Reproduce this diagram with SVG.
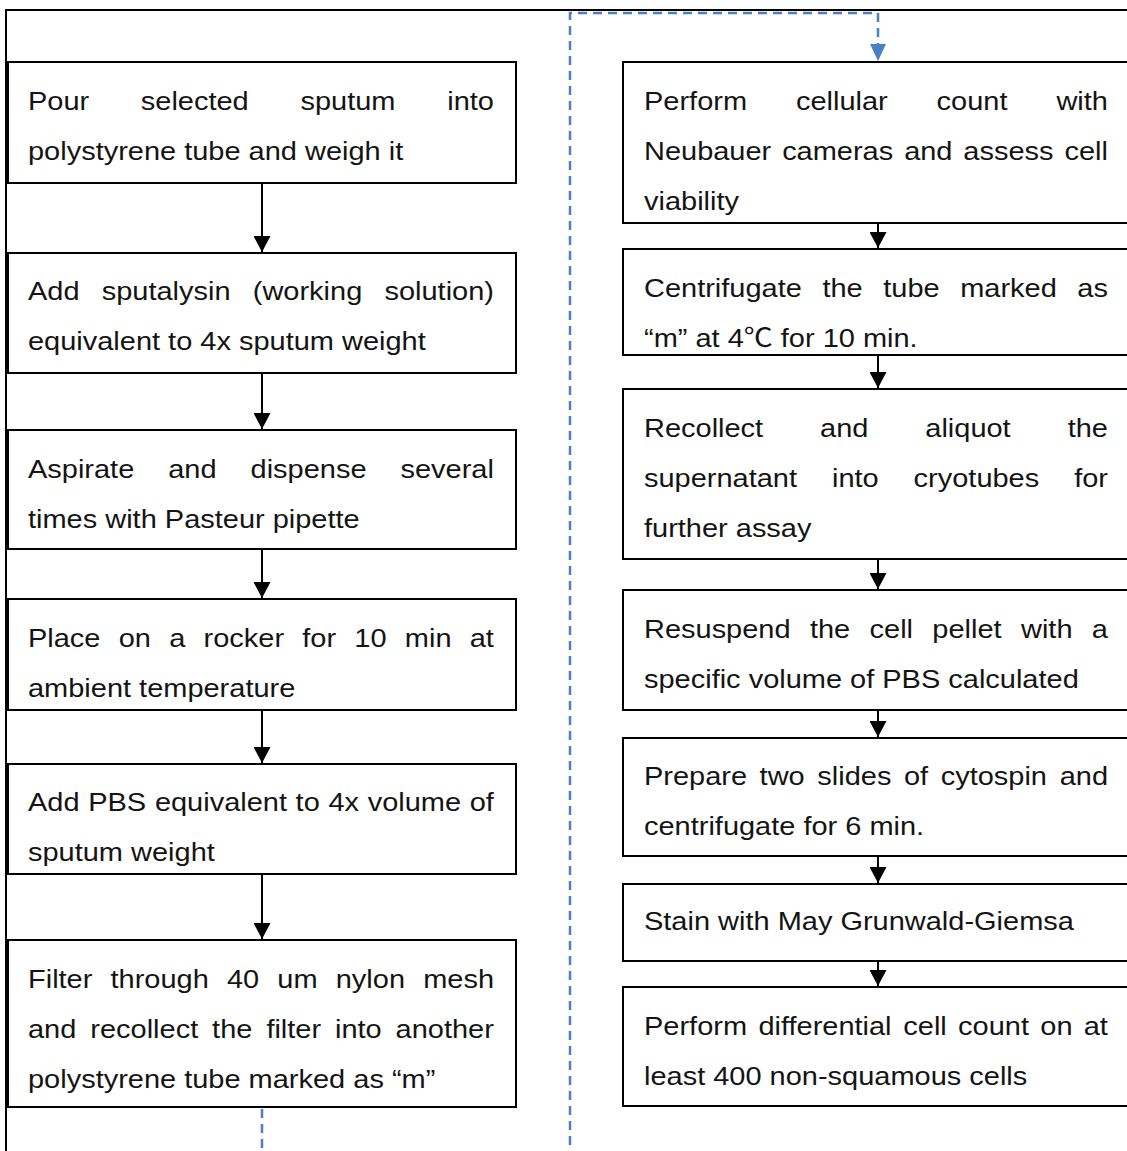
<svg xmlns="http://www.w3.org/2000/svg" width="1127" height="1151" viewBox="0 0 1127 1151">
  <style>
    .box { fill: #ffffff; stroke: #000000; stroke-width: 2; }
    .t { font-family: "Liberation Sans", Arial, "Noto Sans CJK SC", sans-serif; font-size: 26px; fill: #141414; }
    .flow { fill: none; stroke: #000000; stroke-width: 2; }
    .link { fill: none; stroke: #4a7fc1; stroke-width: 2.5; stroke-dasharray: 9 6; }
    .frame { fill: none; stroke: #000000; stroke-width: 2; }
  </style>
  <defs>
    <marker id="ah" markerUnits="userSpaceOnUse" markerWidth="16" markerHeight="17" viewBox="0 0 16 17" refX="16" refY="8.5" orient="auto">
      <path d="M0,0 L16,8.5 L0,17 z" fill="#000000"/>
    </marker>
  </defs>

  <rect x="0" y="0" width="1127" height="1151" fill="#ffffff"/>
  <path class="frame" d="M6,1160 V10 H1135"/>

  <!-- left column -->
  <g id="step-pour">
    <rect class="box" x="8" y="62" width="508" height="121"/>
    <text class="t" transform="translate(28 110) scale(1.115 1)"><tspan x="0">Pour</tspan><tspan x="101.2">selected</tspan><tspan x="244.4">sputum</tspan><tspan x="376">into</tspan></text>
    <text class="t" transform="translate(28 160) scale(1.115 1)">polystyrene tube and weigh it</text>
  </g>
  <g id="step-sputalysin">
    <rect class="box" x="8" y="253" width="508" height="120"/>
    <text class="t" transform="translate(28 300) scale(1.115 1)"><tspan x="0">Add</tspan><tspan x="66.1">sputalysin</tspan><tspan x="201.6">(working</tspan><tspan x="319.7">solution)</tspan></text>
    <text class="t" transform="translate(28 350) scale(1.115 1)">equivalent to 4x sputum weight</text>
  </g>
  <g id="step-aspirate">
    <rect class="box" x="8" y="430" width="508" height="119"/>
    <text class="t" transform="translate(28 478) scale(1.115 1)"><tspan x="0">Aspirate</tspan><tspan x="125.8">and</tspan><tspan x="199.6">dispense</tspan><tspan x="334.1">several</tspan></text>
    <text class="t" transform="translate(28 528) scale(1.115 1)">times with Pasteur pipette</text>
  </g>
  <g id="step-rocker">
    <rect class="box" x="8" y="599" width="508" height="111"/>
    <text class="t" transform="translate(28 647) scale(1.115 1)"><tspan x="0">Place</tspan><tspan x="81.4">on</tspan><tspan x="126.6">a</tspan><tspan x="157.5">rocker</tspan><tspan x="246">for</tspan><tspan x="292.7">10</tspan><tspan x="338">min</tspan><tspan x="396.2">at</tspan></text>
    <text class="t" transform="translate(28 697) scale(1.115 1)">ambient temperature</text>
  </g>
  <g id="step-pbs">
    <rect class="box" x="8" y="764" width="508" height="110"/>
    <text class="t" transform="translate(28 811) scale(1.115 1)"><tspan x="0">Add</tspan><tspan x="54">PBS</tspan><tspan x="113.8">equivalent</tspan><tspan x="240">to</tspan><tspan x="269.5">4x</tspan><tspan x="304.7">volume</tspan><tspan x="396.2">of</tspan></text>
    <text class="t" transform="translate(28 861) scale(1.115 1)">sputum weight</text>
  </g>
  <g id="step-filter">
    <rect class="box" x="8" y="940" width="508" height="167"/>
    <text class="t" transform="translate(28 988) scale(1.115 1)"><tspan x="0">Filter</tspan><tspan x="74">through</tspan><tspan x="178.4">40</tspan><tspan x="223.6">um</tspan><tspan x="276">nylon</tspan><tspan x="354.4">mesh</tspan></text>
    <text class="t" transform="translate(28 1038) scale(1.115 1)"><tspan x="0">and</tspan><tspan x="55.9">recollect</tspan><tspan x="165.1">the</tspan><tspan x="213.8">filter</tspan><tspan x="275.3">into</tspan><tspan x="329.7">another</tspan></text>
    <text class="t" transform="translate(28 1088) scale(1.115 1)">polystyrene tube marked as “m”</text>
  </g>

  <!-- right column -->
  <g id="step-count">
    <rect class="box" x="623" y="62" width="520" height="161"/>
    <text class="t" transform="translate(644 110) scale(1.115 1)"><tspan x="0">Perform</tspan><tspan x="136.3">cellular</tspan><tspan x="262.4">count</tspan><tspan x="369.9">with</tspan></text>
    <text class="t" transform="translate(644 160) scale(1.115 1)"><tspan x="0">Neubauer</tspan><tspan x="123.9">cameras</tspan><tspan x="233.3">and</tspan><tspan x="286.4">assess</tspan><tspan x="377.1">cell</tspan></text>
    <text class="t" transform="translate(644 210) scale(1.115 1)">viability</text>
  </g>
  <g id="step-centrifuge">
    <rect class="box" x="623" y="249" width="520" height="106"/>
    <text class="t" transform="translate(644 297) scale(1.115 1)"><tspan x="0">Centrifugate</tspan><tspan x="160">the</tspan><tspan x="214.6">tube</tspan><tspan x="283.6">marked</tspan><tspan x="388.6">as</tspan></text>
    <text class="t" transform="translate(644 347) scale(1.115 1)">“m” at 4℃ for 10 min.</text>
  </g>
  <g id="step-aliquot">
    <rect class="box" x="623" y="389" width="520" height="170"/>
    <text class="t" transform="translate(644 437) scale(1.115 1)"><tspan x="0">Recollect</tspan><tspan x="157.9">and</tspan><tspan x="252.3">aliquot</tspan><tspan x="380">the</tspan></text>
    <text class="t" transform="translate(644 487) scale(1.115 1)"><tspan x="0">supernatant</tspan><tspan x="168.6">into</tspan><tspan x="241.8">cryotubes</tspan><tspan x="385.8">for</tspan></text>
    <text class="t" transform="translate(644 537) scale(1.115 1)">further assay</text>
  </g>
  <g id="step-resuspend">
    <rect class="box" x="623" y="590" width="520" height="120"/>
    <text class="t" transform="translate(644 638) scale(1.115 1)"><tspan x="0">Resuspend</tspan><tspan x="148.8">the</tspan><tspan x="202.3">cell</tspan><tspan x="258.6">pellet</tspan><tspan x="338.1">with</tspan><tspan x="401.6">a</tspan></text>
    <text class="t" transform="translate(644 688) scale(1.115 1)">specific volume of PBS calculated</text>
  </g>
  <g id="step-cytospin">
    <rect class="box" x="623" y="738" width="520" height="118"/>
    <text class="t" transform="translate(644 785) scale(1.115 1)"><tspan x="0">Prepare</tspan><tspan x="103.7">two</tspan><tspan x="155.5">slides</tspan><tspan x="233.2">of</tspan><tspan x="266.1">cytospin</tspan><tspan x="372.8">and</tspan></text>
    <text class="t" transform="translate(644 835) scale(1.115 1)">centrifugate for 6 min.</text>
  </g>
  <g id="step-stain">
    <rect class="box" x="623" y="884" width="520" height="77"/>
    <text class="t" transform="translate(644 930) scale(1.115 1)">Stain with May Grunwald-Giemsa</text>
  </g>
  <g id="step-differential">
    <rect class="box" x="623" y="987" width="520" height="119"/>
    <text class="t" transform="translate(644 1035) scale(1.115 1)"><tspan x="0">Perform</tspan><tspan x="102.6">differential</tspan><tspan x="232.6">cell</tspan><tspan x="281.7">count</tspan><tspan x="355.4">on</tspan><tspan x="394.4">at</tspan></text>
    <text class="t" transform="translate(644 1085) scale(1.115 1)">least 400 non-squamous cells</text>
  </g>

  <!-- connectors -->
  <g id="connectors">
    <line class="flow" x1="262" y1="184" x2="262" y2="252" marker-end="url(#ah)"/>
    <line class="flow" x1="262" y1="374" x2="262" y2="429" marker-end="url(#ah)"/>
    <line class="flow" x1="262" y1="550" x2="262" y2="598" marker-end="url(#ah)"/>
    <line class="flow" x1="262" y1="711" x2="262" y2="763" marker-end="url(#ah)"/>
    <line class="flow" x1="262" y1="875" x2="262" y2="939" marker-end="url(#ah)"/>

    <line class="flow" x1="878" y1="224" x2="878" y2="248" marker-end="url(#ah)"/>
    <line class="flow" x1="878" y1="356" x2="878" y2="388" marker-end="url(#ah)"/>
    <line class="flow" x1="878" y1="560" x2="878" y2="589" marker-end="url(#ah)"/>
    <line class="flow" x1="878" y1="711" x2="878" y2="737" marker-end="url(#ah)"/>
    <line class="flow" x1="878" y1="857" x2="878" y2="883" marker-end="url(#ah)"/>
    <line class="flow" x1="878" y1="962" x2="878" y2="986" marker-end="url(#ah)"/>

    <!-- continuation from the left column into the right column -->
    <path class="link" d="M262,1109 V1160"/>
    <path class="link" d="M570,1160 V13 H878 V44"/>
    <polygon points="870,44 886,44 878,61" fill="#4a7fc1"/>
  </g>
</svg>
